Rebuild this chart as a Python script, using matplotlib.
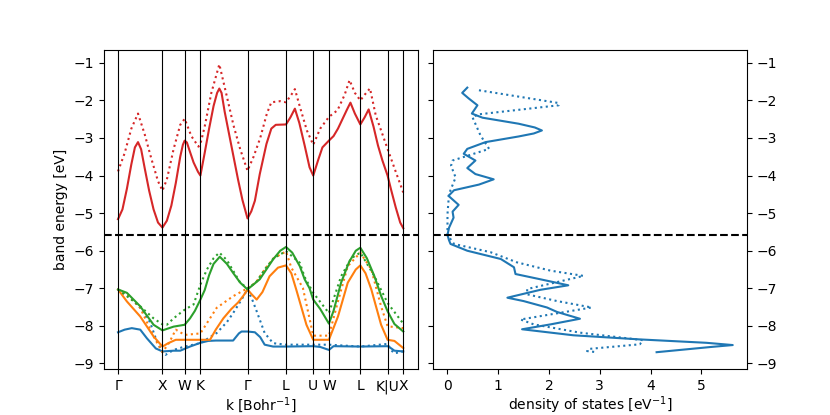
import numpy as np
import matplotlib
matplotlib.use('Agg')
import matplotlib.pyplot as plt

# k path in units of 2pi/a, converted to Bohr^-1 below
kpath_labels = ['Γ', 'X', 'W', 'K', 'Γ', 'L', 'U', 'W', 'L', 'K|U', 'X']
kpath_pos = [0.0, 1.0, 1.5, 1.854, 2.914, 3.780, 4.393, 4.746, 5.453, 6.066, 6.419]
bohr_scale = 2 * np.pi / 10.26
e_fermi = -5.59

# band 1 (blue)
k_b1 = [0, 0.15, 0.31, 0.5, 0.65, 0.85, 1.0, 1.25, 1.4, 1.62, 1.854, 2.03, 2.2, 2.59, 2.72, 2.78, 2.914,
        3.08, 3.2, 3.30, 3.49, 3.78, 4.393, 4.55, 4.746, 4.85, 5.453, 6.066, 6.15, 6.22, 6.419]
e_b1 = [-8.17, -8.1, -8.06, -8.1, -8.33, -8.6, -8.68, -8.66, -8.66, -8.55, -8.45, -8.4, -8.39, -8.39, -8.2,
        -8.15, -8.15, -8.17, -8.3, -8.5, -8.55, -8.55, -8.54, -8.56, -8.64, -8.54, -8.55, -8.54, -8.6, -8.66, -8.68]
k_b1_dot = [0, 0.25, 0.5, 0.72, 0.87, 1.0, 1.07, 1.25, 1.5, 1.854, 2.22, 2.45, 2.59, 2.78, 2.914,
            3.02, 3.12, 3.30, 3.49, 3.78, 4.393, 4.746, 5.453, 6.066, 6.15, 6.22, 6.419]
e_b1_dot = [-7.03, -7.22, -7.52, -7.9, -8.4, -8.7, -8.77, -8.64, -8.55, -8.46, -8.19, -7.9, -7.66, -7.30, -7.03,
            -7.3, -7.61, -8.19, -8.46, -8.50, -8.50, -8.50, -8.55, -8.48, -8.65, -8.73, -8.68]

# band 2 (orange)
k_b2 = [0, 0.2, 0.5, 0.8, 1.0, 1.13, 1.3, 1.5, 1.854, 2.07, 2.2, 2.37, 2.55, 2.7, 2.82, 2.914,
        3.0, 3.12, 3.25, 3.41, 3.6, 3.78, 3.9, 4.01, 4.24, 4.393, 4.746, 4.95, 5.17, 5.35, 5.453, 5.57,
        5.70, 5.92, 6.066, 6.22, 6.419]
e_b2 = [-7.03, -7.35, -7.75, -8.28, -8.55, -8.46, -8.37, -8.37, -8.37, -8.37, -8.1, -7.8, -7.55, -7.38, -7.2,
        -7.03, -7.15, -7.30, -7.1, -6.68, -6.45, -6.39, -6.6, -7.03, -7.97, -8.37, -8.37, -7.75, -6.85, -6.5,
        -6.39, -6.6, -7.03, -7.97, -8.37, -8.4, -8.59]
k_b2_dot = [0, 0.25, 0.5, 0.8, 1.0, 1.15, 1.3, 1.5, 1.854, 2.22, 2.59, 2.914, 3.1, 3.3, 3.5, 3.78,
            3.9, 4.16, 4.393, 4.746, 4.94, 5.17, 5.453, 5.70, 5.92, 6.066, 6.419]
e_b2_dot = [-7.03, -7.22, -7.52, -8.28, -8.70, -8.45, -8.1, -8.24, -8.2, -7.52, -7.21, -7.0, -6.85, -6.5, -6.2,
            -6.02, -6.45, -6.99, -8.26, -8.26, -7.39, -6.41, -6.05, -6.50, -7.48, -8.01, -8.06]

# band 3 (green)
k_b3 = [0, 0.2, 0.5, 0.8, 1.0, 1.25, 1.5, 1.62, 1.73, 1.854, 1.95, 2.05, 2.15, 2.29, 2.45, 2.59, 2.75, 2.914,
        3.19, 3.49, 3.65, 3.78, 3.92, 4.09, 4.2, 4.31, 4.393, 4.55, 4.746, 4.85, 5.02, 5.2, 5.35, 5.453, 5.6,
        5.77, 5.92, 6.066, 6.22, 6.419]
e_b3 = [-7.03, -7.12, -7.48, -7.97, -8.12, -8.02, -7.97, -7.8, -7.6, -7.30, -7.05, -6.65, -6.35, -6.16, -6.35,
        -6.59, -6.85, -7.03, -6.76, -6.23, -6.0, -5.90, -6.05, -6.41, -6.76, -7.0, -7.30, -7.55, -7.94, -7.6,
        -6.85, -6.3, -6.0, -5.92, -6.2, -6.68, -7.2, -7.61, -7.95, -8.15]
k_b3_dot = [0, 0.5, 0.8, 1.0, 1.1, 1.25, 1.4, 1.5, 1.7, 1.854, 2.0, 2.15, 2.28, 2.45, 2.6, 2.75, 2.914,
            3.1, 3.3, 3.5, 3.78, 4.09, 4.2, 4.393, 4.746, 5.02, 5.25, 5.453, 5.77, 6.066, 6.419]
e_b3_dot = [-7.03, -7.48, -7.8, -7.96, -7.97, -7.8, -7.66, -7.57, -7.43, -6.90, -6.5, -6.2, -6.05, -6.25, -6.55,
            -6.85, -7.0, -6.85, -6.5, -6.2, -6.01, -6.32, -6.70, -7.12, -7.66, -6.68, -6.2, -6.05, -6.68, -7.39, -7.94]

# band 4 (red, conduction)
k_b4 = [0, 0.1, 0.2, 0.3, 0.38, 0.45, 0.52, 0.6, 0.7, 0.8, 0.9, 1.0, 1.1, 1.2, 1.3, 1.4, 1.46, 1.5, 1.55, 1.6,
        1.7, 1.8, 1.854, 1.95, 2.05, 2.15, 2.23, 2.28, 2.33, 2.4, 2.5, 2.6, 2.7, 2.8, 2.914, 3.0, 3.08, 3.19,
        3.34, 3.45, 3.55, 3.78, 3.88, 3.98, 4.08, 4.2, 4.31, 4.393, 4.5, 4.6, 4.746, 4.85, 4.95, 5.05, 5.15,
        5.23, 5.33, 5.453, 5.55, 5.64, 5.75, 5.85, 5.95, 6.066, 6.15, 6.25, 6.35, 6.419]
e_b4 = [-5.16, -4.9, -4.35, -3.7, -3.25, -3.11, -3.3, -3.8, -4.4, -4.9, -5.25, -5.385, -5.2, -4.8, -4.2, -3.5,
        -3.18, -3.07, -3.12, -3.3, -3.65, -3.9, -4.0, -3.4, -2.75, -2.15, -1.8, -1.685, -1.8, -2.3, -2.9, -3.5,
        -4.1, -4.65, -5.14, -4.95, -4.67, -3.96, -3.16, -2.75, -2.65, -2.64, -2.45, -2.22, -2.6, -3.2, -3.78,
        -4.0, -3.6, -3.25, -3.07, -2.95, -2.75, -2.5, -2.25, -2.06, -2.35, -2.64, -2.45, -2.24, -2.7, -3.2,
        -3.6, -4.0, -4.4, -4.85, -5.25, -5.40]
k_b4_dot = [0, 0.15, 0.3, 0.45, 0.6, 0.75, 0.9, 1.0, 1.1, 1.25, 1.4, 1.5, 1.65, 1.81, 1.854, 1.95, 2.1, 2.28,
            2.45, 2.6, 2.75, 2.914, 3.05, 3.2, 3.35, 3.45, 3.65, 3.78, 3.9, 3.98, 4.1, 4.25, 4.393, 4.55, 4.746,
            4.94, 5.1, 5.21, 5.33, 5.453, 5.55, 5.67, 5.8, 5.95, 6.066, 6.25, 6.419]
e_b4_dot = [-3.89, -3.4, -2.75, -2.35, -2.9, -3.55, -4.15, -4.40, -4.1, -3.3, -2.65, -2.49, -2.95, -3.23, -3.16,
            -2.7, -1.8, -1.04, -1.9, -2.67, -3.3, -3.87, -3.5, -3.0, -2.35, -2.05, -2.02, -2.05, -1.85, -1.70,
            -2.2, -2.8, -3.18, -2.75, -2.44, -2.26, -1.85, -1.46, -1.8, -2.0, -1.85, -1.68, -2.4, -2.9, -3.29,
            -3.9, -4.45]

# density of states
dos_e = [-1.66, -1.80, -1.95, -2.13, -2.35, -2.46, -2.62, -2.72, -2.80, -2.88, -2.96, -3.11, -3.29, -3.42,
         -3.60, -3.80, -3.96, -4.10, -4.24, -4.39, -4.54, -4.78, -4.96, -5.12, -5.39, -5.58, -5.72, -5.82, -6.0,
         -6.22, -6.44, -6.62, -6.76, -6.92, -7.04, -7.25, -7.34, -7.51, -7.63, -7.81, -7.96, -8.09, -8.25,
         -8.36, -8.45, -8.51, -8.56, -8.70]
dos = [0.39, 0.29, 0.42, 0.59, 0.48, 0.69, 1.40, 1.72, 1.86, 1.70, 1.40, 0.75, 0.39, 0.32,
       0.55, 0.39, 0.55, 0.91, 0.62, 0.13, 0.02, 0.22, 0.10, 0.12, 0.03, 0.0, 0.03, 0.06, 0.39,
       1.05, 1.31, 1.34, 1.83, 2.38, 1.83, 1.18, 1.50, 1.96, 2.16, 2.61, 2.03, 1.47, 2.48,
       3.79, 5.1, 5.62, 5.2, 4.12]
dos_e_dot = [-1.73, -2.07, -2.13, -2.37, -2.44, -2.93, -3.29, -3.60, -3.74, -4.05, -4.49, -5.03, -5.58,
             -5.82, -6.04, -6.31, -6.53, -6.67, -7.02, -7.16, -7.34, -7.51, -7.83, -7.96, -8.18, -8.38,
             -8.49, -8.61, -8.67, -8.70]
dos_dot = [0.62, 2.19, 2.19, 0.62, 0.49, 0.65, 0.82, 0.10, 0.07, 0.16, 0.03, 0.0, 0.0,
           0.13, 0.85, 1.37, 2.03, 2.68, 1.57, 1.57, 2.16, 2.84, 1.44, 1.70, 2.61, 3.85,
           3.79, 2.81, 2.75, 2.94]

bands = [(k_b1, e_b1, k_b1_dot, e_b1_dot),
         (k_b2, e_b2, k_b2_dot, e_b2_dot),
         (k_b3, e_b3, k_b3_dot, e_b3_dot),
         (k_b4, e_b4, k_b4_dot, e_b4_dot)]

fig, (ax, ax_dos) = plt.subplots(1, 2, sharey=True, figsize=(8.3, 4.15), dpi=100)
fig.subplots_adjust(wspace=0.05)

for i, (k, e, kd, ed) in enumerate(bands):
    ax.plot(np.array(k) * bohr_scale, e, color=f'C{i}')
    ax.plot(np.array(kd) * bohr_scale, ed, ':', color=f'C{i}')

for x in kpath_pos:
    ax.axvline(x * bohr_scale, color='k', lw=0.8)
ax.axhline(e_fermi, color='k', ls='--')
ax.set_xticks(np.array(kpath_pos) * bohr_scale)
ax.set_xticklabels(kpath_labels)
ax.set_xlabel('k [Bohr$^{-1}$]', labelpad=1)
ax.set_ylabel('band energy [eV]')

ax_dos.plot(dos, dos_e, color='C0')
ax_dos.plot(dos_dot, dos_e_dot, ':', color='C0')
ax_dos.axhline(e_fermi, color='k', ls='--')
ax_dos.set_xlabel('density of states [eV$^{-1}$]', labelpad=1)
ax_dos.tick_params(axis='y', left=True, right=True, labelleft=False, labelright=True)

fig.savefig('out.png')
